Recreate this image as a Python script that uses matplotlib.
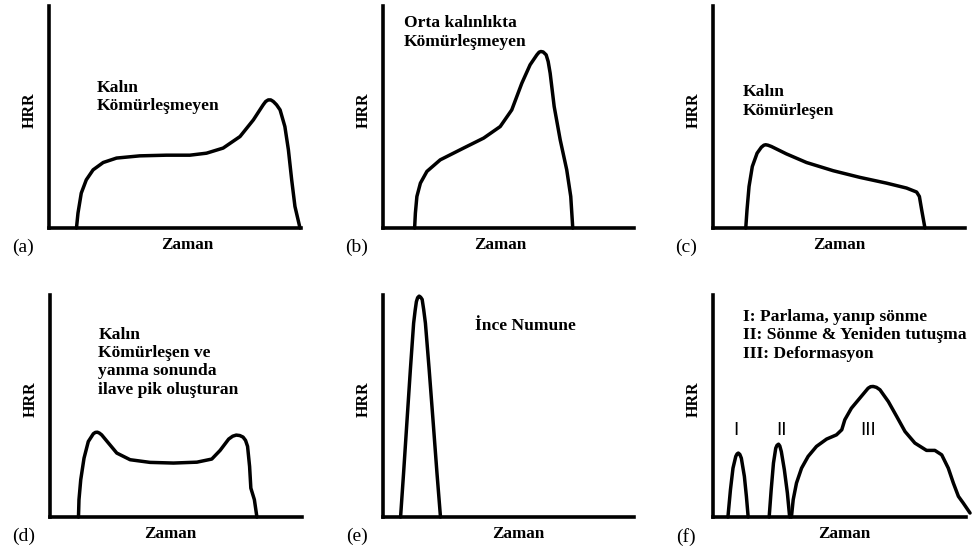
import matplotlib
matplotlib.use("Agg")
import matplotlib.pyplot as plt

# HRR - Zaman şematik eğrileri (okunan noktalar, eksen yüzdesi olarak)
a_x = [10.9, 11.5, 12.8, 14.8, 17.5, 21.5, 26.8, 36.0, 46.6, 55.9, 62.5, 69.1, 75.8,
       81.1, 85.0, 86.0, 87.0, 88.0, 89.0, 90.3, 91.7, 93.6, 95.0, 96.3, 97.6, 99.6]
a_y = [0, 6.7, 15.7, 21.7, 26.2, 29.5, 31.5, 32.5, 32.8, 32.8, 33.7, 36.0, 41.2,
       48.7, 55.5, 57.0, 57.7, 57.7, 57.0, 55.5, 53.2, 45.7, 35.2, 21.7, 9.7, 0]

b_x = [12.6, 12.9, 13.5, 14.9, 17.5, 22.8, 32.1, 40.1, 46.7, 51.3, 55.3, 58.6, 61.3,
       62.2, 62.9, 63.8, 65.0, 65.8, 66.6, 68.2, 70.6, 73.2, 74.8, 75.6]
b_y = [0, 6.7, 14.2, 20.2, 25.5, 30.7, 36.0, 40.5, 45.7, 53.2, 65.2, 73.5, 78.0,
       79.2, 79.5, 79.3, 78.0, 75.0, 69.7, 54.7, 39.7, 26.2, 14.2, 0]

c_x = [13.0, 13.5, 14.3, 15.6, 17.5, 19.2, 20.2, 20.9, 21.8, 23.2, 29.1, 37.1, 47.7,
       58.3, 68.9, 76.8, 80.8, 81.9, 82.8, 84.1]
c_y = [0, 8.2, 18.7, 27.7, 33.7, 36.4, 37.3, 37.5, 37.3, 36.7, 33.4, 29.5, 25.8,
       22.8, 20.2, 18.0, 16.2, 14.2, 8.2, 0]

d_x = [11.3, 11.5, 12.2, 13.5, 15.2, 17.2, 18.0, 18.8, 19.6, 20.5, 23.2, 26.5, 31.8,
       39.7, 49.0, 58.3, 64.2, 67.5, 70.9, 72.5, 73.9, 75.3, 76.6, 77.6, 78.4, 79.2,
       79.7, 81.1, 82.1]
d_y = [0, 7.8, 16.8, 26.5, 34.0, 37.5, 38.1, 38.2, 37.8, 37.0, 33.3, 28.8, 25.8,
       24.6, 24.3, 24.7, 26.1, 30.0, 35.1, 36.4, 36.9, 36.7, 36.0, 34.5, 31.8, 22.8,
       13.0, 7.8, 0]

e_x = [7.0, 8.2, 9.6, 10.9, 12.2, 12.8, 13.3, 13.8, 14.4, 15.0, 15.6, 16.2, 16.9,
       18.4, 19.9, 21.5, 22.9]
e_y = [0, 19.8, 44.0, 66.3, 87.3, 93.0, 97.0, 98.8, 99.5, 99.0, 98.0, 93.5, 87.3,
       66.3, 44.0, 19.8, 0]

f1_x = [5.9, 6.9, 7.9, 9.0, 9.5, 10.0, 10.6, 11.2, 12.4, 13.2, 13.9]
f1_y = [0, 12.3, 22.0, 27.3, 28.4, 28.8, 28.2, 26.5, 18.3, 9.3, 0]
f2_x = [22.2, 23.0, 23.9, 24.8, 25.3, 25.9, 26.4, 27.0, 28.2, 29.4, 30.3]
f2_y = [0, 12.3, 24.3, 31.0, 32.3, 32.8, 32.0, 29.5, 21.3, 10.8, 0]
f3_x = [31.0, 31.7, 33.0, 35.0, 37.6, 40.9, 44.9, 48.8, 50.9, 52.1, 54.7, 58.0, 61.3,
        62.3, 63.3, 64.6, 66.0, 69.3, 72.6, 75.9, 79.8, 84.4, 87.7, 90.4, 93.0, 95.0,
        97.0, 98.9, 101.6]
f3_y = [0, 7.8, 15.3, 22.0, 27.3, 31.8, 35.1, 37.0, 39.3, 43.8, 49.0, 53.5, 58.0,
        58.7, 58.8, 58.4, 57.3, 52.0, 45.3, 38.5, 33.3, 30.0, 30.0, 28.0, 22.0, 15.3,
        9.3, 6.3, 1.8]

panel_tags = ["(a)", "(b)", "(c)", "(d)", "(e)", "(f)"]
panel_notes = ["Kalın\nKömürleşmeyen",
               "Orta kalınlıkta\nKömürleşmeyen",
               "Kalın\nKömürleşen",
               "Kalın\nKömürleşen ve\nyanma sonunda\nilave pik oluşturan",
               "İnce Numune",
               "I: Parlama, yanıp sönme\nII: Sönme & Yeniden tutuşma\nIII: Deformasyon"]
roman = ["I", "II", "III"]

curves = [[(a_x, a_y)], [(b_x, b_y)], [(c_x, c_y)], [(d_x, d_y)], [(e_x, e_y)],
          [(f1_x, f1_y), (f2_x, f2_y), (f3_x, f3_y)]]

# eksen konumları (piksel: sol, sağ, üst, alt)
W, H = 973, 554
boxes = [(49, 301, 6, 228), (383, 634, 6, 228), (713, 965, 6, 228),
         (50, 302, 295, 517), (383, 634, 295, 517), (713, 966, 295, 517)]
note_pos = [(0.188, 0.668), (0.082, 0.958), (0.119, 0.648),
            (0.192, 0.858), (0.366, 0.898), (0.119, 0.938)]
zaman_x = [0.55, 0.466, 0.50, 0.476, 0.54, 0.52]
roman_x = [0.092, 0.27, 0.613]

serif = "Liberation Serif"

fig = plt.figure(figsize=(W / 100, H / 100), dpi=100)

for i, (l, r, t, b) in enumerate(boxes):
    ax = fig.add_axes([l / W, (H - b) / H, (r - l) / W, (b - t) / H])
    for xs, ys in curves[i]:
        ax.plot(xs, ys, color="black", lw=2.5, solid_joinstyle="round",
                solid_capstyle="round", clip_on=False)
    ax.set_xlim(0, 100)
    ax.set_ylim(0, 100)
    for s in ["top", "right"]:
        ax.spines[s].set_visible(False)
    for s in ["left", "bottom"]:
        ax.spines[s].set_linewidth(2.6)
    ax.set_xticks([])
    ax.set_yticks([])
    ax.text(-0.078, 0.53, "HRR", transform=ax.transAxes, rotation=90,
            ha="center", va="center", family=serif, weight="bold", fontsize=11.5)
    ax.text(zaman_x[i], -0.075, "Zaman", transform=ax.transAxes,
            ha="center", va="center", family=serif, weight="bold", fontsize=12.3)
    ax.text(-0.105, -0.088, panel_tags[i], transform=ax.transAxes,
            ha="center", va="center", family=serif, fontsize=14)
    nx, ny = note_pos[i]
    ax.text(nx, ny, panel_notes[i], transform=ax.transAxes, ha="left", va="top",
            family=serif, weight="bold", fontsize=12.6, linespacing=1.2)
    if i == 5:
        for k, lab in enumerate(roman):
            ax.text(roman_x[k], 0.39, lab, transform=ax.transAxes, ha="center",
                    va="center", family="Liberation Sans", fontsize=13.5)

fig.savefig("out.png", dpi=100)
